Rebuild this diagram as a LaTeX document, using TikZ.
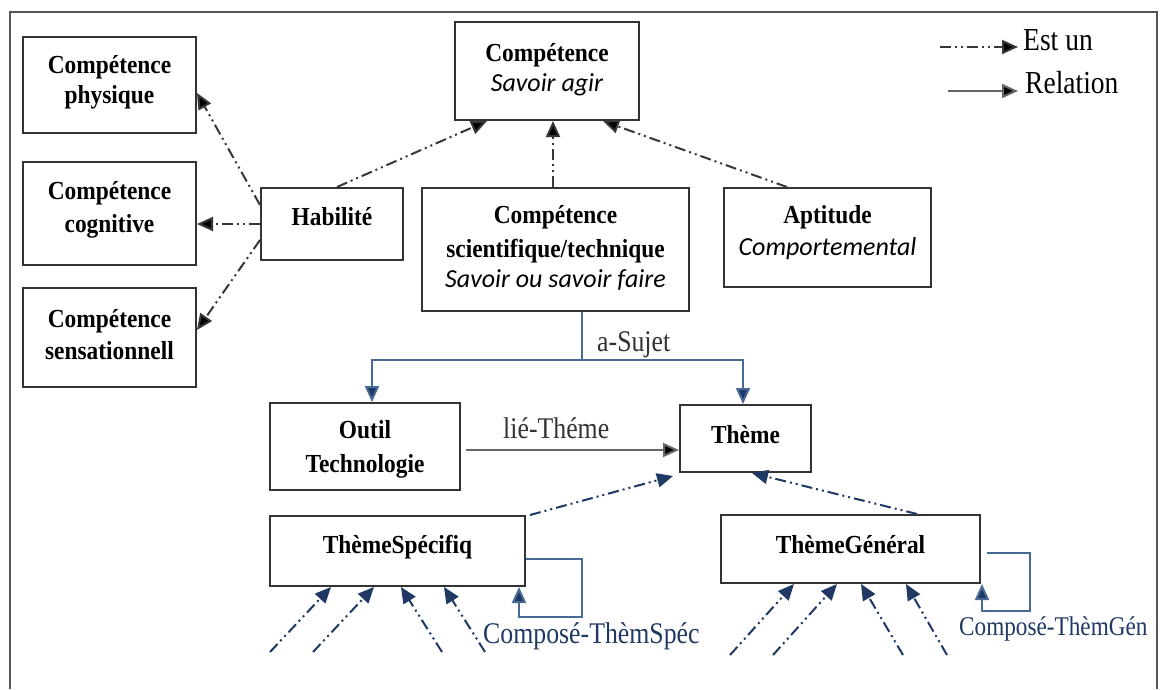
\documentclass[tikz,border=0pt]{standalone}
\usepackage{fontspec}
\setmainfont{Liberation Serif}
\newfontfamily\boxfont{Liberation Serif}[FakeStretch=0.9]
\newfontfamily\lblfont{Liberation Serif}[FakeStretch=0.86]
\newfontfamily\itfont{Carlito}
\usetikzlibrary{arrows.meta}
\definecolor{navy}{RGB}{31,56,100}
\definecolor{steel}{RGB}{70,105,150}
\definecolor{isagrey}{RGB}{55,55,55}
\definecolor{framegrey}{RGB}{85,85,85}
\tikzset{
  box/.style={draw=black!80, line width=2pt, rectangle, inner sep=0pt},
  bt/.style={font=\boxfont\bfseries\fontsize{26}{31}\selectfont, inner sep=0pt, anchor=base},
  itx/.style={font=\itfont\itshape\fontsize{26}{31}\selectfont, inner sep=0pt, anchor=base},
  lbl/.style={font=\lblfont\fontsize{30}{34}\selectfont, inner sep=0pt, anchor=base west},
  tip/.style={-{Triangle[length=16pt,width=14pt,fill=#1]}},
  isadash/.style={line width=2pt, dash pattern=on 11pt off 4pt on 2pt off 4pt on 2pt off 4pt},
  isa/.style={isadash, draw=isagrey, tip=black},
  isab/.style={isadash, draw=navy, tip=navy},
  rel/.style={line width=2pt, draw=steel, tip=navy},
  relg/.style={line width=2pt, draw=black!60, tip=black},
}
\begin{document}
\begin{tikzpicture}[x=1pt, y=-1pt]
\useasboundingbox (0,0) rectangle (1160,689);
\fill[white] (0,0) rectangle (1160,689);

% outer frame (open at the bottom)
\draw[framegrey, line width=2.2pt] (10,689) -- (10,12) -- (1157,12) -- (1157,689);

% boxes
\node[box, minimum width=173pt, minimum height=96pt]  (cphy)  at (109.5,85)    {};
\node[box, minimum width=173pt, minimum height=103pt] (ccog)  at (109.5,213.5) {};
\node[box, minimum width=173pt, minimum height=99pt]  (csen)  at (109.5,337.5) {};
\node[box, minimum width=142pt, minimum height=72pt]  (hab)   at (332,224)     {};
\node[box, minimum width=184pt, minimum height=98pt]  (comp)  at (547,71)      {};
\node[box, minimum width=267pt, minimum height=123pt] (csci)  at (555.5,249.5) {};
\node[box, minimum width=207pt, minimum height=99pt]  (apt)   at (827.5,237.5) {};
\node[box, minimum width=190pt, minimum height=87pt]  (outil) at (365,446.5)   {};
\node[box, minimum width=131pt, minimum height=67pt]  (theme) at (745.5,438.5) {};
\node[box, minimum width=255pt, minimum height=70pt]  (tspec) at (397.5,551)   {};
\node[box, minimum width=259pt, minimum height=68pt]  (tgen)  at (850.5,549)   {};

% box texts
\node[bt] (cphy1) at (109.5,73) {Compétence};
\node[bt] (cphy2) at (109.5,103) {physique};
\node[bt] (ccog1) at (109.5,199) {Compétence};
\node[bt] (ccog2) at (109.5,232) {cognitive};
\node[bt] (csen1) at (109.5,327) {Compétence};
\node[bt] (csen2) at (109.5,359) {sensationnell};
\node[bt] (hab1)  at (332,225) {Habilité};
\node[bt] (comp1) at (547,61) {Compétence};
\node[itx] (comp2) at (547,91) {Savoir agir};
\node[bt] (csci1) at (555.5,223) {Compétence};
\node[bt] (csci2) at (555.5,257) {scientifique/technique};
\node[itx] (csci3) at (555.5,287) {Savoir ou savoir faire};
\node[bt] (apt1)  at (827.5,223) {Aptitude};
\node[itx] (apt2) at (827.5,255) {Comportemental};
\node[bt] (outil1) at (365,438) {Outil};
\node[bt] (outil2) at (365,472) {Technologie};
\node[bt] (theme1) at (745.5,443) {Thème};
\node[bt] (tspec1) at (397.5,553) {ThèmeSpécifiq};
\node[bt] (tgen1)  at (850.5,553) {ThèmeGénéral};

% legend
\node[lbl, font=\lblfont\fontsize{32}{34}\selectfont] (estun) at (1023,50) {Est un};
\node[lbl, font=\lblfont\fontsize{32}{34}\selectfont] (relat) at (1025,93) {Relation};
\coordinate (lg1) at (940,47);
\coordinate (lg2) at (948,91);
\draw[isa] (lg1) -- ([xshift=-5pt]lg1 -| estun.west);
\draw[relg] (lg2) -- ([xshift=-7pt]lg2 -| relat.west);

% "est un" links of the upper part
\draw[isa] ([yshift=-18pt]hab.north west) -- ([yshift=-8pt]cphy.east);
\draw[isa] (hab.west) -- (ccog.east |- hab.west);
\draw[isa] ([yshift=-16pt]hab.west) -- ([yshift=7.5pt]csen.east);
\draw[isa] ([xshift=77pt]hab.north west) -- ([xshift=33pt]comp.south west);
\draw[isa] ([xshift=-2.5pt]csci.north) -- ([xshift=-2.5pt]csci.north |- comp.south);
\draw[isa] ([xshift=64pt]apt.north west) -- ([xshift=-37pt]comp.south east);

% a-Sujet
\coordinate (split) at (582,360);
\draw[steel, line width=2pt] ([xshift=26.5pt]csci.south) -- (split);
\draw[rel] (split) -| ([xshift=7pt]outil.north);
\draw[rel] (split) -| ([xshift=-2.5pt]theme.north);
\node[lbl, text=black!80] (asuj) at (597,351) {a-Sujet};

% lié-Théme
\coordinate (liestart) at ([yshift=-3.5pt,xshift=5pt]outil.east);
\draw[relg] (liestart) -- (theme.west |- liestart);
\node[lbl, text=black!80] (lie) at (503,438) {lié-Théme};

% specialisations of Thème
\draw[isab] ([xshift=4pt]tspec.north east) -- ([xshift=-6pt,yshift=-3pt]theme.south west);
\draw[isab] ([xshift=197pt]tgen.north west) -- ([xshift=6.5pt]theme.south);

% composition loops
\draw[rel] ([yshift=-8pt]tspec.east) -- ++(56,0) -- ++(0,58) -| ([xshift=-7pt]tspec.south east);
\node[lbl, text=navy] (cts) at (483,643) {Composé-ThèmSpéc};
\draw[rel] ([xshift=6pt,yshift=-4pt]tgen.east) -- ++(43,0) -- ++(0,58) -| ([xshift=1pt]tgen.south east);
\node[lbl, text=navy, font=\lblfont\fontsize{27}{30}\selectfont] (ctg) at (959,635) {Composé-ThèmGén};

% incoming sub-themes (open ends)
\coordinate (s1) at (270,652);
\coordinate (s2) at (313,652);
\coordinate (s3) at (442,652);
\coordinate (s4) at (485,652);
\draw[isab] (s1) -- ([xshift=62pt]tspec.south west);
\draw[isab] (s2) -- ([xshift=105pt]tspec.south west);
\draw[isab] (s3) -- ([xshift=132pt]tspec.south west);
\draw[isab] (s4) -- ([xshift=175pt]tspec.south west);
\coordinate (g1) at (730,655);
\coordinate (g2) at (773,655);
\coordinate (g3) at (903,655);
\coordinate (g4) at (947,655);
\draw[isab] (g1) -- ([xshift=74pt]tgen.south west);
\draw[isab] (g2) -- ([xshift=117pt]tgen.south west);
\draw[isab] (g3) -- ([xshift=141pt]tgen.south west);
\draw[isab] (g4) -- ([xshift=186pt]tgen.south west);
\end{tikzpicture}
\end{document}
